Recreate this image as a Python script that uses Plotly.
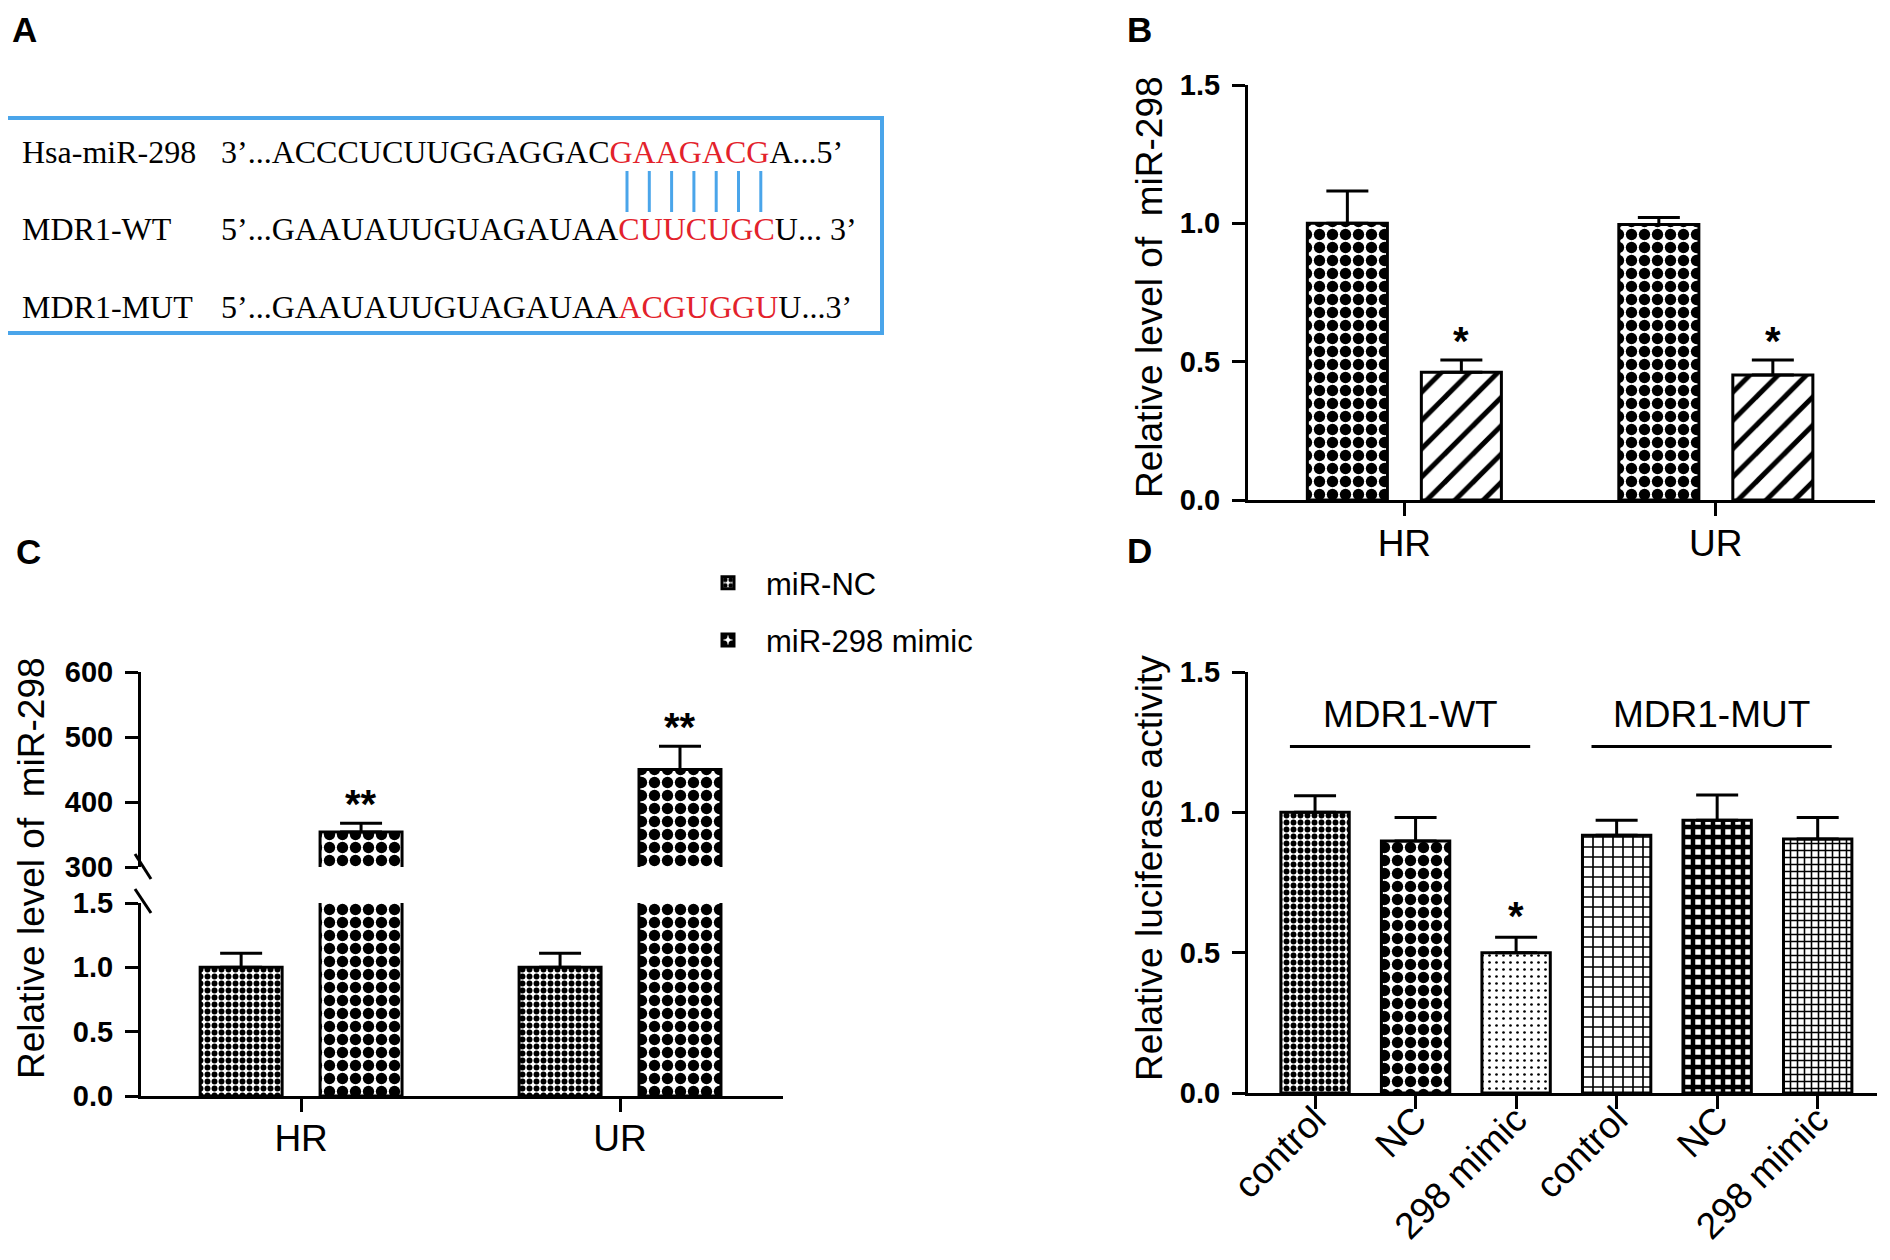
import plotly.graph_objects as go

# screenshot size and the page margin around the figure
W, H = 1890, 1260
PAD = 8
FW, FH = W - 2 * PAD, H - 2 * PAD


def px(x):
    return (x - PAD) / FW


def py(y):
    return 1 - (y - PAD) / FH


# -------------------------------
# data
# -------------------------------
# A: binding site alignment
seq_names = ["Hsa-miR-298", "MDR1-WT", "MDR1-MUT"]
seq_left = ["3’...ACCCUCUUGGAGGAC", "5’...GAAUAUUGUAGAUAA", "5’...GAAUAUUGUAGAUAA"]
seq_site = ["GAAGACG", "CUUCUGC", "ACGUGGU"]
seq_right = ["A...5’", "U... 3’", "U...3’"]

# B: relative level of miR-298
b_groups = ["HR", "UR"]
b_ctrl = [1.0, 0.996]
b_ctrl_err = [0.117, 0.025]
b_treat = [0.462, 0.452]
b_treat_err = [0.044, 0.054]
b_sig = ["*", "*"]

# C: miR-NC vs miR-298 mimic (broken axis)
c_groups = ["HR", "UR"]
c_nc = [1.0, 1.0]
c_nc_err = [0.11, 0.11]
c_mimic = [354, 450]
c_mimic_err = [13.5, 35.6]
c_sig = ["**", "**"]

# D: luciferase reporter
d_labels = ["control", "NC", "298 mimic", "control", "NC", "298 mimic"]
d_vals = [1.0, 0.898, 0.5, 0.918, 0.972, 0.905]
d_err = [0.059, 0.084, 0.055, 0.054, 0.09, 0.077]
d_sig = ["", "", "*", "", "", ""]
d_constructs = ["MDR1-WT", "MDR1-MUT"]
d_construct_idx = [[0, 1, 2], [3, 4, 5]]

# -------------------------------
# styles
# -------------------------------
SANS = "Liberation Sans, Arial, sans-serif"
SERIF = "Liberation Serif, Times New Roman, serif"
RED = "#e3222b"
BLUE = "#4aa5ea"

checker_coarse = dict(shape=".", size=13, solidity=0.6, fgcolor="black", bgcolor="white", fgopacity=1)
checker_fine = dict(shape=".", size=7, solidity=0.55, fgcolor="black", bgcolor="white", fgopacity=1)
hatch = dict(shape="/", size=20, solidity=0.25, fgcolor="black", bgcolor="white", fgopacity=1)


def err(vals):
    return dict(type="data", array=vals, symmetric=False, arrayminus=[0] * len(vals),
                color="black", thickness=3, width=21)


bar_line = dict(color="black", width=3)
axis_common = dict(showline=True, linewidth=3, linecolor="black", ticks="outside", ticklen=13,
                   tickwidth=3, tickcolor="black", showgrid=False, zeroline=False, automargin=False)
ytick_font = dict(family=SANS, size=29, color="black", weight="bold")
xtick_font = dict(family=SANS, size=37, color="black")

fig = go.Figure()

# -------------------------------
# B
# -------------------------------
bw, boff = 0.257, 0.183
fig.add_trace(go.Bar(x=b_groups, y=b_ctrl, width=bw, offset=-boff - bw / 2,
                     marker=dict(color="white", line=bar_line, pattern=checker_coarse),
                     error_y=err(b_ctrl_err), xaxis="x", yaxis="y", showlegend=False))
fig.add_trace(go.Bar(x=b_groups, y=b_treat, width=bw, offset=boff - bw / 2,
                     marker=dict(color="white", line=bar_line, pattern=hatch),
                     error_y=err(b_treat_err), xaxis="x", yaxis="y", showlegend=False))

# -------------------------------
# C (lower + upper segment)
# -------------------------------
cw, coff = 0.257, 0.188
for xa, ya, show in [("x2", "y2", True), ("x3", "y3", False)]:
    fig.add_trace(go.Bar(x=c_groups, y=c_nc, width=cw, offset=-coff - cw / 2, name="miR-NC",
                         marker=dict(color="white", line=bar_line, pattern=checker_fine),
                         error_y=err(c_nc_err), xaxis=xa, yaxis=ya,
                         showlegend=show, legendgroup="nc"))
    fig.add_trace(go.Bar(x=c_groups, y=c_mimic, width=cw, offset=coff - cw / 2, name="miR-298 mimic",
                         marker=dict(color="white", line=bar_line, pattern=checker_coarse),
                         error_y=err(c_mimic_err), xaxis=xa, yaxis=ya,
                         showlegend=show, legendgroup="mimic"))

# -------------------------------
# D
# -------------------------------
d_x = list(range(len(d_labels)))
fig.add_trace(go.Bar(
    x=d_x, y=d_vals, width=0.68,
    marker=dict(color="white", line=bar_line, pattern=dict(
        shape=[".", ".", ".", "+", "+", "+"],
        size=[7, 13, 7, 10, 10, 7],
        solidity=[0.55, 0.6, 0.12, 0.3, 0.7, 0.4],
        fgcolor="black", bgcolor="white", fgopacity=1)),
    error_y=err(d_err), xaxis="x4", yaxis="y4", showlegend=False))

# -------------------------------
# annotations / shapes
# -------------------------------
ann = []
shapes = []

# panel letters (A and B hang from the top edge)
letter_font = dict(family=SANS, size=35, color="black", weight="bold")
for letter, (lx, ly), anchor in zip("ABCD", [(24, 8.5), (1139, 8.5), (28, 551), (1139, 550)],
                                    ["top", "top", "middle", "middle"]):
    ann.append(dict(text=letter, x=px(lx), y=py(ly), xref="paper", yref="paper", showarrow=False,
                    xanchor="center", yanchor=anchor, font=letter_font))

# A: alignment box
shapes.append(dict(type="rect", xref="paper", yref="paper", x0=px(5), x1=px(882), y0=py(333), y1=py(118),
                   line=dict(color=BLUE, width=4)))
for i, row_y in enumerate([152, 229, 307]):
    ann.append(dict(text=seq_names[i], x=px(20), y=py(row_y), xref="paper", yref="paper",
                    showarrow=False, xanchor="left", yanchor="middle",
                    font=dict(family=SERIF, size=32, color="black")))
    ann.append(dict(text=f"{seq_left[i]}<span style='color:{RED}'>{seq_site[i]}</span>{seq_right[i]}",
                    x=px(219), y=py(row_y), xref="paper", yref="paper",
                    showarrow=False, xanchor="left", yanchor="middle",
                    font=dict(family=SERIF, size=32, color="black")))
pair_x0, pair_step = 627, 22.3
for k in range(len(seq_site[0])):
    xx = px(pair_x0 + k * pair_step)
    shapes.append(dict(type="line", xref="paper", yref="paper", x0=xx, x1=xx, y0=py(212), y1=py(171),
                       line=dict(color=BLUE, width=3)))

# axis titles
for title, tx, ty in [("Relative level of\u00a0\u00a0miR-298", 1149, 287),
                      ("Relative level of\u00a0\u00a0miR-298", 31, 868),
                      ("Relative luciferase activity", 1149, 868)]:
    ann.append(dict(text=title, x=px(tx), y=py(ty), xref="paper", yref="paper", showarrow=False,
                    textangle=-90, xanchor="center", yanchor="middle",
                    font=dict(family=SANS, size=37, color="black")))

star_font = dict(family=SANS, size=40, color="black", weight="bold")
for i, s in enumerate(b_sig):
    ann.append(dict(text=s, x=i + boff, y=b_treat[i] + b_treat_err[i] + 0.07, xref="x", yref="y",
                    showarrow=False, yanchor="middle", font=star_font))
for i, s in enumerate(c_sig):
    ann.append(dict(text=s, x=i + coff, y=c_mimic[i] + c_mimic_err[i] + 30, xref="x3", yref="y3",
                    showarrow=False, yanchor="middle", font=star_font))
for i, s in enumerate(d_sig):
    if s:
        ann.append(dict(text=s, x=i, y=d_vals[i] + d_err[i] + 0.075, xref="x4", yref="y4",
                        showarrow=False, yanchor="middle", font=star_font))

# D construct brackets
for name, idx in zip(d_constructs, d_construct_idx):
    x0, x1 = idx[0] - 0.25, idx[-1] + 0.14
    shapes.append(dict(type="line", xref="x4", yref="y4", x0=x0, x1=x1, y0=1.235, y1=1.235,
                       line=dict(color="black", width=3)))
    ann.append(dict(text=name, x=(x0 + x1) / 2, y=1.35, xref="x4", yref="y4", showarrow=False,
                    yanchor="middle", font=dict(family=SANS, size=37, color="black")))

# C axis break marks
for y0, y1 in [(854, 879), (889, 913)]:
    shapes.append(dict(type="line", xref="paper", yref="paper", x0=px(135), x1=px(151),
                       y0=py(y0), y1=py(y1), line=dict(color="black", width=3)))

# -------------------------------
# layout
# -------------------------------
fig.update_layout(
    width=FW, height=FH, margin=dict(l=0, r=0, t=0, b=0),
    paper_bgcolor="white", plot_bgcolor="white", barmode="overlay",
    annotations=ann, shapes=shapes,
    legend=dict(x=px(690), y=py(556), xanchor="left", yanchor="top", itemwidth=66,
                tracegroupgap=14, bgcolor="rgba(0,0,0,0)",
                font=dict(family=SANS, size=31, color="black")),
    xaxis=dict(domain=[px(1248), px(1875)], range=[-0.502, 1.511], anchor="y",
               tickfont=xtick_font, ticklabelstandoff=-4, **axis_common),
    yaxis=dict(domain=[py(500), py(85)], range=[0, 1.5], anchor="x", tickvals=[0, 0.5, 1.0, 1.5],
               tickformat=".1f", tickfont=ytick_font, ticklabelstandoff=6, **axis_common),
    xaxis2=dict(domain=[px(141), px(783)], range=[-0.502, 1.511], anchor="y2",
                tickfont=xtick_font, ticklabelstandoff=-5, **axis_common),
    yaxis2=dict(domain=[py(1096), py(903)], range=[0, 1.5], anchor="x2", tickvals=[0, 0.5, 1.0, 1.5],
                tickformat=".1f", tickfont=ytick_font, ticklabelstandoff=6, **axis_common),
    xaxis3=dict(domain=[px(141), px(783)], range=[-0.502, 1.511], anchor="y3", visible=False),
    yaxis3=dict(domain=[py(867), py(672)], range=[300, 600], anchor="x3", dtick=100,
                tickfont=ytick_font, ticklabelstandoff=6, **axis_common),
    xaxis4=dict(domain=[px(1248), px(1877)], range=[-0.667, 5.59], anchor="y4",
                tickvals=d_x, ticktext=d_labels, tickangle=-45,
                tickfont=dict(family=SANS, size=37, color="black"), ticklabelstandoff=-26, **axis_common),
    yaxis4=dict(domain=[py(1093), py(672)], range=[0, 1.5], anchor="x4", tickvals=[0, 0.5, 1.0, 1.5],
                tickformat=".1f", tickfont=ytick_font, ticklabelstandoff=6, **axis_common),
)

fig.write_html("out.html")
